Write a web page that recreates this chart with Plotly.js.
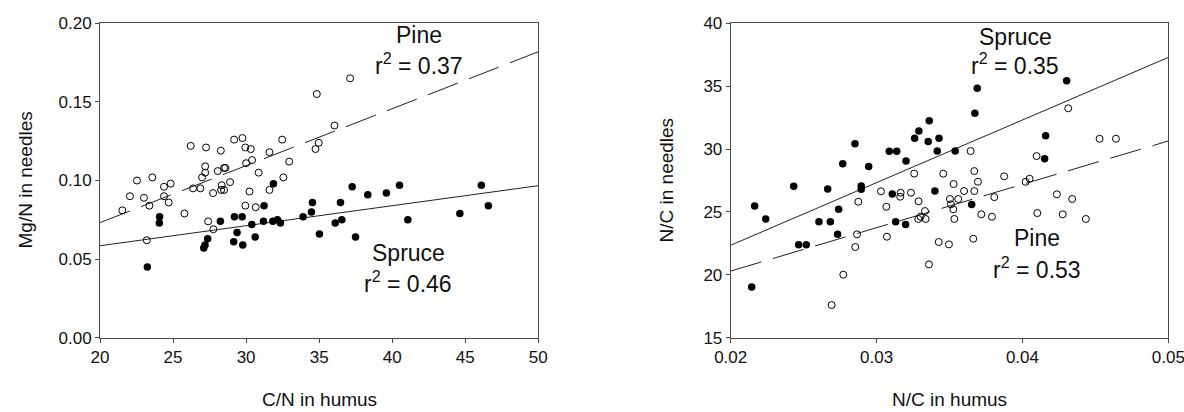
<!DOCTYPE html>
<html><head><meta charset="utf-8">
<script src="https://cdn.plot.ly/plotly-3.0.1.min.js"></script>
<style>html,body{margin:0;padding:0;background:#fff}#chart{width:1184px;height:412px}</style>
</head><body><div id="chart"></div>
<script>
// ---- Left panel: C/N in humus vs Mg/N in needles ----
const pineCN = [21.53,22.05,22.53,23.01,23.38,23.58,24.38,24.38,24.70,24.84,25.78,23.20,26.21,26.37,26.87,26.99,27.20,27.20,27.26,27.40,27.74,27.76,28.06,28.27,28.33,28.29,28.49,28.58,28.49,28.90,29.18,29.75,29.95,30.32,30.00,30.41,30.23,29.95,30.66,30.86,31.60,31.60,32.47,32.55,32.95,34.75,34.97,36.05,34.84,37.12];
const pineMgN = [0.081,0.090,0.100,0.089,0.084,0.102,0.096,0.090,0.086,0.098,0.079,0.062,0.122,0.095,0.095,0.102,0.105,0.109,0.121,0.074,0.092,0.069,0.106,0.119,0.097,0.094,0.108,0.108,0.094,0.099,0.126,0.127,0.121,0.120,0.111,0.113,0.093,0.084,0.083,0.105,0.118,0.094,0.126,0.102,0.112,0.120,0.124,0.135,0.155,0.165];
const spruceCN = [23.24,24.08,24.06,27.10,27.19,27.37,28.24,29.20,29.73,29.38,29.15,29.77,30.39,30.62,31.19,31.23,31.87,31.83,32.15,32.35,33.90,34.47,34.54,35.02,36.10,36.55,36.46,37.26,37.49,38.33,39.60,40.50,46.10,46.58,44.63,41.07];
const spruceMgN = [0.045,0.077,0.073,0.057,0.059,0.063,0.074,0.077,0.077,0.067,0.061,0.059,0.072,0.064,0.074,0.084,0.098,0.074,0.075,0.073,0.077,0.080,0.086,0.066,0.073,0.075,0.086,0.096,0.064,0.091,0.092,0.097,0.097,0.084,0.079,0.075];
const pineFitCN = [20, 50];
const pineFitMgN = [0.0732, 0.1819];
const spruceFitCN = [20, 50];
const spruceFitMgN = [0.0585, 0.0967];
const leftXTicks = [20, 25, 30, 35, 40, 45, 50];
const leftYTicks = [0, 0.05, 0.10, 0.15, 0.20];
const leftYTickText = ['0.00', '0.05', '0.10', '0.15', '0.20'];

// ---- Right panel: N/C in humus vs N/C in needles ----
const pineNCh = [0.02875,0.02866,0.02854,0.02772,0.02692,0.03030,0.03067,0.03071,0.03165,0.03162,0.03236,0.03258,0.03288,0.03457,0.03670,0.03695,0.03528,0.03875,0.04022,0.04049,0.04097,0.04314,0.04529,0.04641,0.03645,0.03600,0.03670,0.03503,0.03560,0.03510,0.03526,0.03807,0.04236,0.04341,0.03332,0.03302,0.03336,0.03286,0.03533,0.03718,0.03791,0.04102,0.04276,0.04435,0.03426,0.03496,0.03663,0.03359];
const pineNCn = [25.81,23.22,22.21,20.01,17.60,26.64,25.41,23.03,26.53,26.21,26.53,28.05,25.84,28.04,28.25,27.40,27.22,27.83,27.40,27.64,29.44,33.24,30.82,30.82,29.84,26.66,26.66,26.03,26.03,25.60,25.21,26.18,26.40,26.03,25.07,24.62,24.44,24.44,24.44,24.81,24.62,24.91,24.81,24.44,22.61,22.42,22.87,20.83];
const spruceNCh = [0.02164,0.02240,0.02144,0.02432,0.02466,0.02518,0.02605,0.02683,0.02665,0.02740,0.02733,0.02768,0.02852,0.02946,0.02895,0.02895,0.03087,0.03138,0.03108,0.03131,0.03199,0.03202,0.03261,0.03290,0.03361,0.03354,0.03428,0.03416,0.03539,0.03674,0.03690,0.03400,0.03652,0.04159,0.04152,0.04303];
const spruceNCn = [25.47,24.44,19.03,27.04,22.39,22.39,24.22,24.22,26.82,25.21,23.22,28.83,30.42,28.62,27.06,26.80,29.83,29.83,26.42,24.22,24.01,29.05,30.85,31.43,32.25,30.61,30.85,29.84,29.84,32.84,34.83,26.66,25.60,31.06,29.23,35.43];
const spruceFitNCh = [0.02, 0.05];
const spruceFitNCn = [22.35, 37.29];
const pineFitNCh = [0.02, 0.05];
const pineFitNCn = [20.30, 30.64];
const rightXTicks = [0.02, 0.03, 0.04, 0.05];
const rightXTickText = ['0.02', '0.03', '0.04', '0.05'];
const rightYTicks = [15, 20, 25, 30, 35, 40];

const W = 1184, H = 412;
const px = v => v / W, py = v => 1 - v / H;
const FONT = 'Liberation Sans, Arial, sans-serif';
const INK = '#111';
const AX = '#4a4a4a';

const openM = {symbol:'circle-open', size:7, color:'#000', line:{width:1, color:'#000'}};
const fillM = {symbol:'circle', size:7.5, color:'#000'};
const fitDash = '32px,12px';

const traces = [
  {x:pineFitCN, y:pineFitMgN, mode:'lines', line:{color:'#222', width:1, dash:fitDash}, xaxis:'x', yaxis:'y', hoverinfo:'skip'},
  {x:spruceFitCN, y:spruceFitMgN, mode:'lines', line:{color:'#222', width:1}, xaxis:'x', yaxis:'y', hoverinfo:'skip'},
  {x:pineCN, y:pineMgN, mode:'markers', marker:openM, xaxis:'x', yaxis:'y', name:'Pine'},
  {x:spruceCN, y:spruceMgN, mode:'markers', marker:fillM, xaxis:'x', yaxis:'y', name:'Spruce'},
  {x:pineFitNCh, y:pineFitNCn, mode:'lines', line:{color:'#222', width:1, dash:fitDash}, xaxis:'x2', yaxis:'y2', hoverinfo:'skip'},
  {x:spruceFitNCh, y:spruceFitNCn, mode:'lines', line:{color:'#222', width:1}, xaxis:'x2', yaxis:'y2', hoverinfo:'skip'},
  {x:pineNCh, y:pineNCn, mode:'markers', marker:openM, xaxis:'x2', yaxis:'y2', name:'Pine'},
  {x:spruceNCh, y:spruceNCn, mode:'markers', marker:fillM, xaxis:'x2', yaxis:'y2', name:'Spruce'}
];

const axBase = {
  showgrid:false, zeroline:false, showline:true, linecolor:AX, linewidth:1, mirror:true,
  ticks:'outside', ticklen:4, tickcolor:AX, tickwidth:1, tickmode:'array',
  ticklabeloverflow:'allow',
  tickfont:{family:FONT, size:17, color:INK}
};

const ann = (text, x, y, size, extra) => Object.assign({
  text, x:px(x), y:py(y), xref:'paper', yref:'paper', showarrow:false,
  xanchor:'center', yanchor:'middle', font:{family:FONT, size, color:INK}
}, extra || {});

const layout = {
  width:W, height:H, margin:{l:0, r:0, t:0, b:0},
  paper_bgcolor:'#fff', plot_bgcolor:'#fff', showlegend:false,
  xaxis: Object.assign({}, axBase, {domain:[px(100), px(538.3)], range:[20,50], tickvals:leftXTicks, anchor:'y'}),
  yaxis: Object.assign({}, axBase, {domain:[py(337.7), py(23.3)], range:[0,0.2], tickvals:leftYTicks, ticktext:leftYTickText, anchor:'x'}),
  xaxis2: Object.assign({}, axBase, {domain:[px(730.7), px(1168.3)], range:[0.02,0.05], tickvals:rightXTicks, ticktext:rightXTickText, anchor:'y2'}),
  yaxis2: Object.assign({}, axBase, {domain:[py(337.7), py(23.3)], range:[15,40], tickvals:rightYTicks, anchor:'x2'}),
  annotations: [
    ann('C/N in humus', 319, 399.5, 19),
    ann('Mg/N in needles', 25, 180.5, 19, {textangle:-90}),
    ann('N/C in humus', 949, 399.5, 19),
    ann('N/C in needles', 666, 180.5, 19, {textangle:-90}),
    ann('Pine', 419.3, 35, 23),
    ann('r<sup>2</sup> = 0.37', 418.7, 64, 23),
    ann('Spruce', 408.7, 253, 23),
    ann('r<sup>2</sup> = 0.46', 408, 282, 23),
    ann('Spruce', 1015.3, 37, 23),
    ann('r<sup>2</sup> = 0.35', 1015, 64, 23),
    ann('Pine', 1037.3, 238, 23),
    ann('r<sup>2</sup> = 0.53', 1037, 268, 23)
  ]
};

Plotly.newPlot('chart', traces, layout, {staticPlot:true, displayModeBar:false});
</script>
</body></html>
